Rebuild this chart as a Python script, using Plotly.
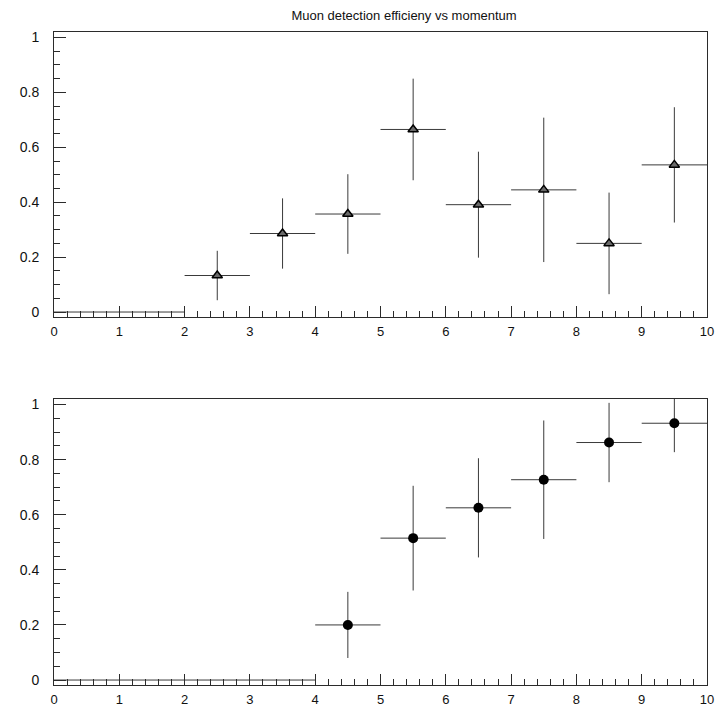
import plotly.graph_objects as go

# Bin centres (momentum) and half bin width
bin_centres = [0.5, 1.5, 2.5, 3.5, 4.5, 5.5, 6.5, 7.5, 8.5, 9.5]
half_width = 0.5

# Upper panel: efficiency per bin with symmetric errors
eff_top = [0.0, 0.0, 0.133, 0.286, 0.357, 0.665, 0.391, 0.445, 0.250, 0.536]
err_top = [0.0, 0.0, 0.090, 0.128, 0.145, 0.185, 0.193, 0.263, 0.185, 0.210]

# Lower panel: efficiency per bin with symmetric errors
eff_bot = [0.0, 0.0, 0.0, 0.0, 0.200, 0.515, 0.625, 0.727, 0.862, 0.932]
err_bot = [0.0, 0.0, 0.0, 0.0, 0.120, 0.190, 0.180, 0.215, 0.144, 0.105]

x_ticks = list(range(0, 11))
y_ticks = [0, 0.2, 0.4, 0.6, 0.8, 1]

title_text = "Muon detection efficieny vs momentum"

FRAME = "#2b2b2b"
BAR = "#3a3a3a"
FONT = "Liberation Sans"


def split(values, errors):
    """Separate empty bins (drawn as bare horizontal bars) from filled ones."""
    empty_x = [x for x, v in zip(bin_centres, values) if v == 0]
    full = [(x, v, e) for x, v, e in zip(bin_centres, values, errors) if v != 0]
    return empty_x, [f[0] for f in full], [f[1] for f in full], [f[2] for f in full]


def add_panel(fig, values, errors, xref, yref, symbol, size, color, line):
    empty_x, fx, fy, fe = split(values, errors)
    # empty bins: horizontal bin-width bar only
    fig.add_trace(go.Scatter(
        x=empty_x, y=[0] * len(empty_x), mode="markers",
        marker=dict(size=0.1, opacity=0),
        error_x=dict(type="constant", value=half_width, width=0, thickness=1, color=BAR),
        xaxis=xref, yaxis=yref, showlegend=False, hoverinfo="skip",
    ))
    fig.add_trace(go.Scatter(
        x=fx, y=fy, mode="markers",
        marker=dict(symbol=symbol, size=size, color=color, line=line),
        error_x=dict(type="constant", value=half_width, width=0, thickness=1, color=BAR),
        error_y=dict(type="data", array=fe, width=0, thickness=1, color=BAR),
        xaxis=xref, yaxis=yref, showlegend=False,
    ))


fig = go.Figure()
add_panel(fig, eff_top, err_top, "x", "y", "triangle-up", 9, "#6a6a6a",
          dict(color="#000000", width=1.5))
add_panel(fig, eff_bot, err_bot, "x2", "y2", "circle", 10, "#000000",
          dict(color="#000000", width=0))

axis_common = dict(
    showgrid=False, zeroline=False, showline=True, mirror=True, automargin=False,
    linecolor=FRAME, linewidth=1, ticks="inside", tickcolor=FRAME,
    tickfont=dict(family=FONT, size=14, color="#111111"),
)

x_axis = dict(axis_common, range=[0, 10], tickvals=x_ticks, ticklen=11,
              tickfont=dict(family=FONT, size=13, color="#111111"),
              minor=dict(ticks="inside", dtick=0.2, tick0=0, ticklen=6, tickcolor=FRAME),
              ticklabelstandoff=2)
y_axis = dict(axis_common, range=[-0.018, 1.02], tickvals=y_ticks, ticklen=12,
              minor=dict(ticks="inside", dtick=0.05, tick0=0, ticklen=6, tickcolor=FRAME),
              ticklabelstandoff=11)

fig.update_layout(
    width=717, height=707,
    margin=dict(l=54, r=10, t=32, b=22),
    paper_bgcolor="white", plot_bgcolor="white",
    xaxis=dict(x_axis, domain=[0, 1], anchor="y"),
    yaxis=dict(y_axis, domain=[0.5636, 1.0], anchor="x"),
    xaxis2=dict(x_axis, domain=[0, 1], anchor="y2"),
    yaxis2=dict(y_axis, domain=[0.0, 0.438], anchor="x2"),
    title=dict(text=title_text, xref="container", yref="container",
               x=404 / 717, y=1 - 15 / 707, xanchor="center", yanchor="middle",
               font=dict(family=FONT, size=13, color="#111111")),
)

fig.write_html("out.html")
